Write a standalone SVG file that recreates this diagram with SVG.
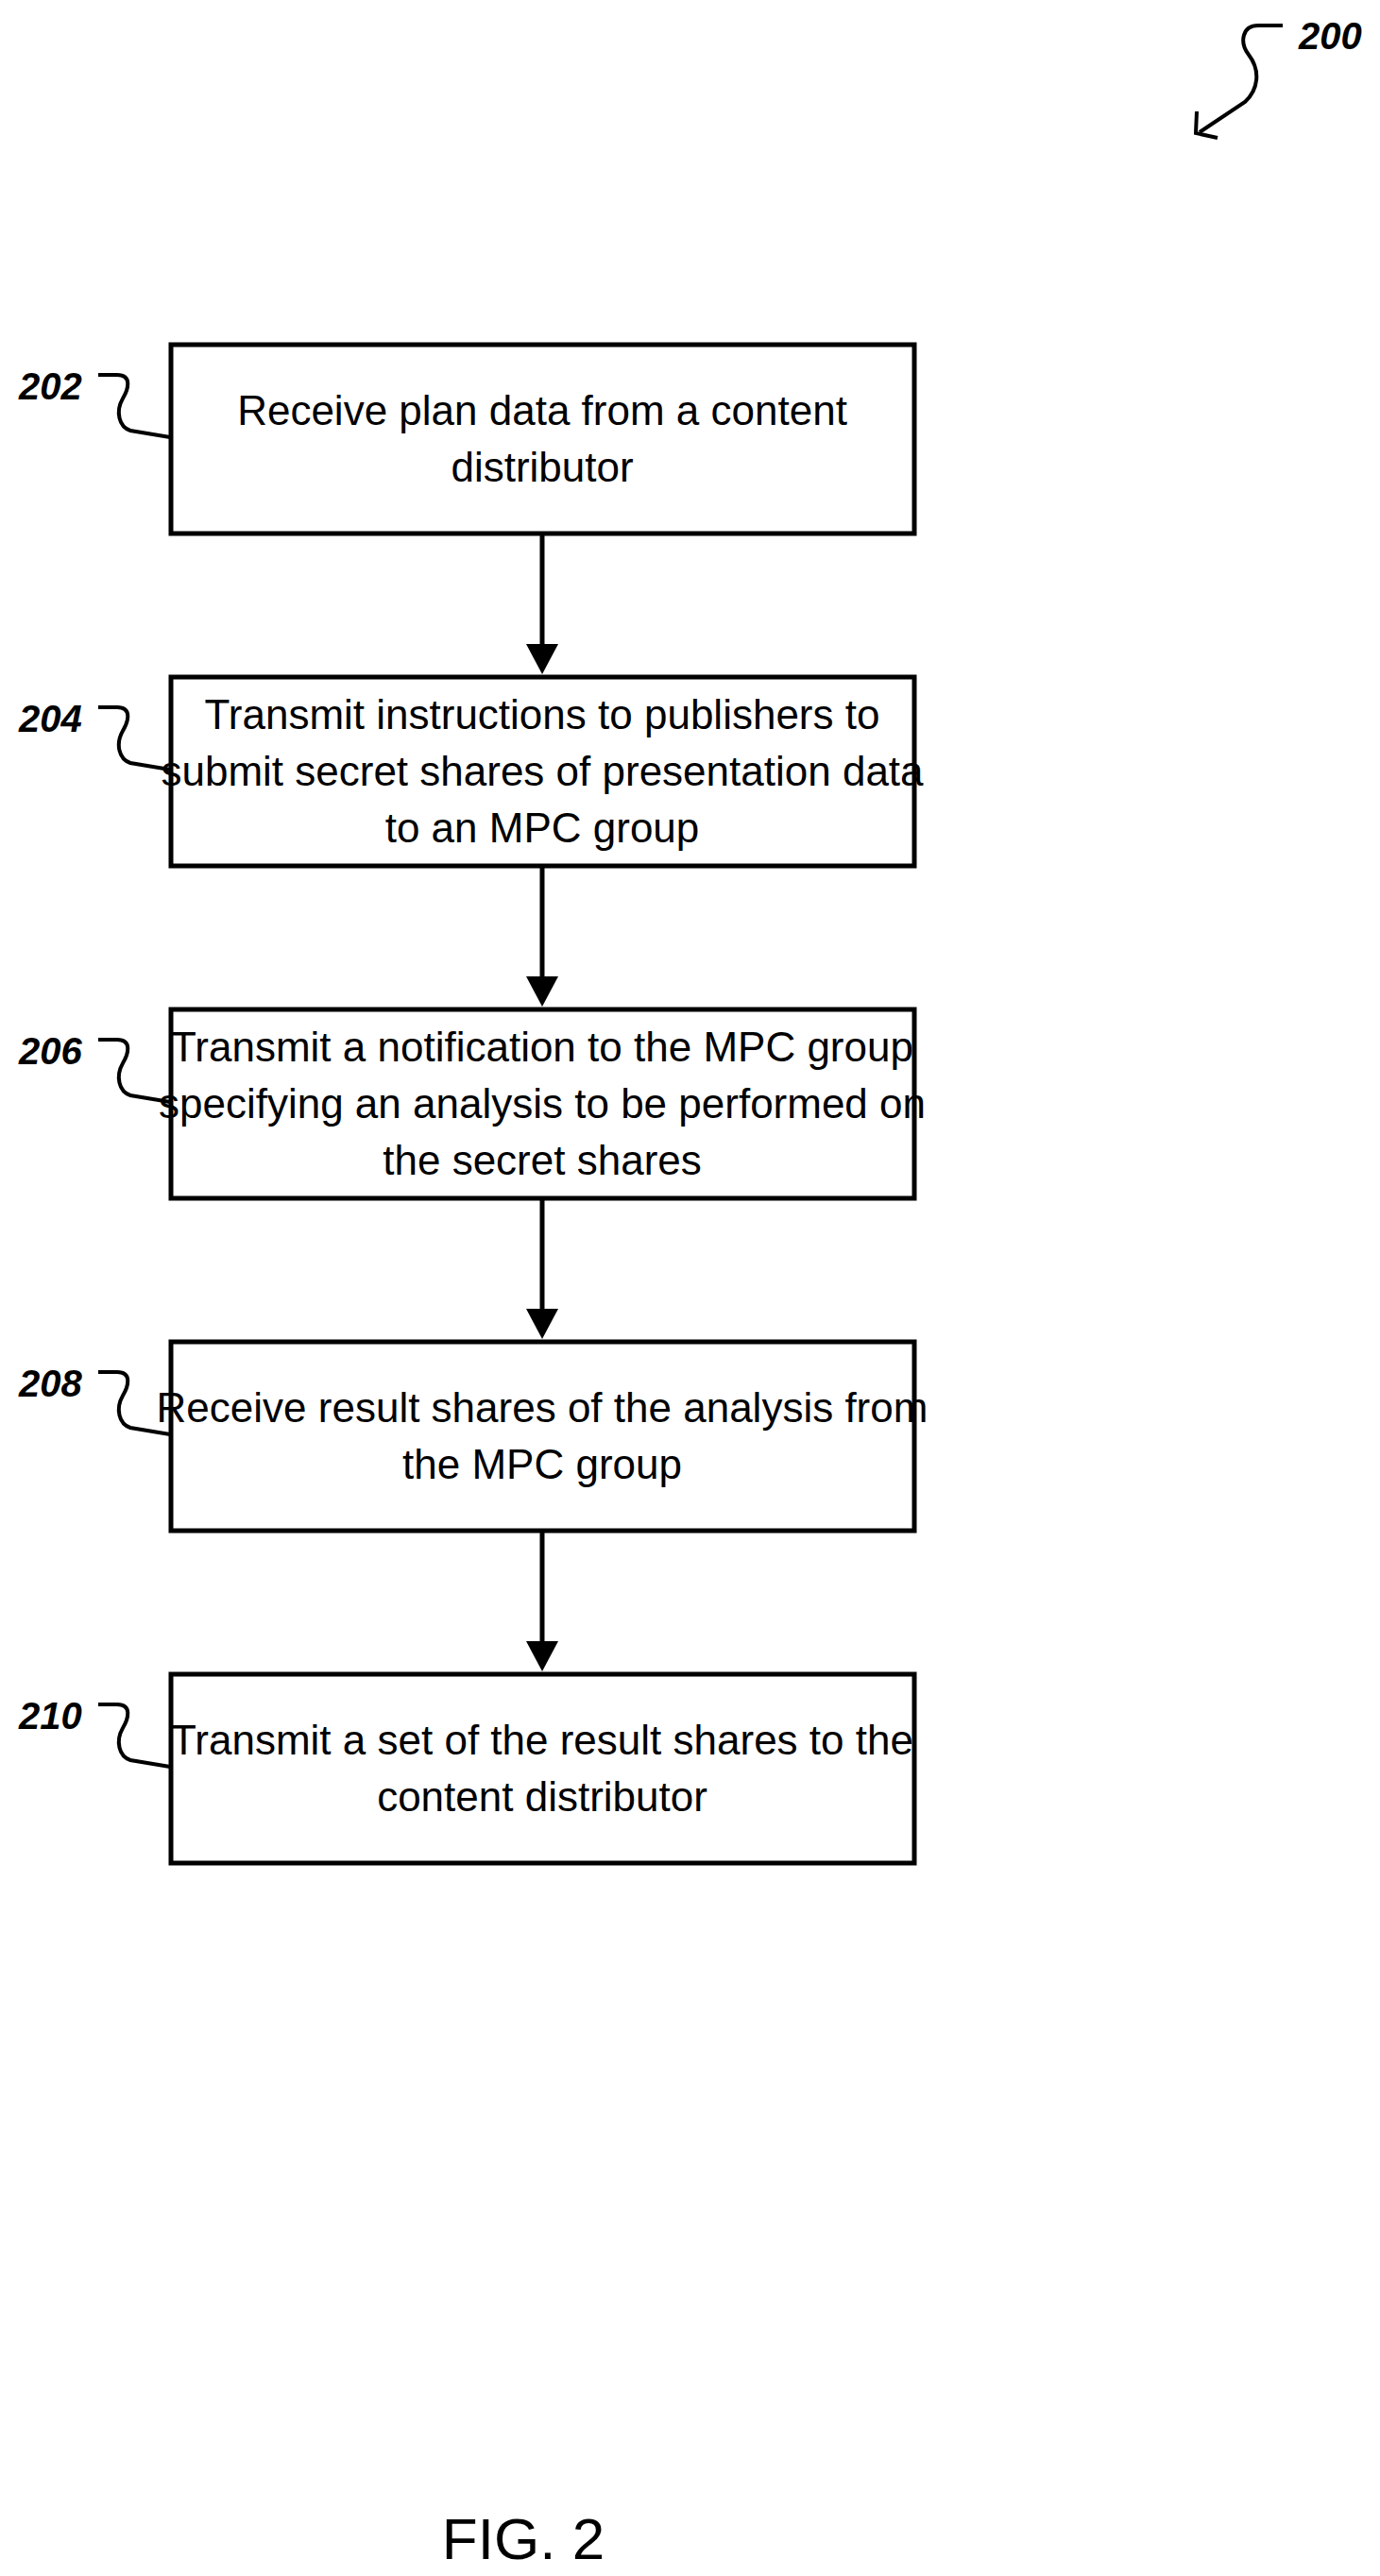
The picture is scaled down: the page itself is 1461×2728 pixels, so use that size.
<svg xmlns="http://www.w3.org/2000/svg" width="1461" height="2728" viewBox="0 0 1461 2728">
<style>
.box{fill:#fff;stroke:#000;stroke-width:5}
.t{font-family:"Liberation Sans Narrow","Arial Narrow","Liberation Sans",sans-serif;font-size:44px;text-anchor:middle;fill:#000}
.lbl{font-family:"Liberation Sans Narrow","Arial Narrow","Liberation Sans",sans-serif;font-size:40px;font-weight:bold;font-style:italic;fill:#000}
.ln{fill:none;stroke:#000;stroke-width:4}
.c{stroke:#000;stroke-width:5;fill:none}
</style>
<defs>
<marker id="ah" markerWidth="10" markerHeight="10" refX="9" refY="5" orient="auto" markerUnits="userSpaceOnUse" viewBox="0 0 10 10">
<path d="M0,0 L10,5 L0,10 Z" fill="#000"/>
</marker>
</defs>
<rect width="1461" height="2728" fill="#fff"/>
<g id="ref200">
<text class="lbl" x="1375" y="52">200</text>
<path class="ln" d="M1358,27 L1332,27 C1315,27 1312,45 1322,58 C1335,75 1332,95 1318,108 L1270,140"/>
<path class="ln" d="M1267,118 L1266,141 L1289,146"/>
</g>
<g id="connectors">
<line class="c" x1="574" y1="566" x2="574" y2="686"/><path d="M557,682 L591,682 L574,714 Z"/>
<line class="c" x1="574" y1="918" x2="574" y2="1038"/><path d="M557,1034 L591,1034 L574,1066 Z"/>
<line class="c" x1="574" y1="1270" x2="574" y2="1390"/><path d="M557,1386 L591,1386 L574,1418 Z"/>
<line class="c" x1="574" y1="1622" x2="574" y2="1742"/><path d="M557,1738 L591,1738 L574,1770 Z"/>
</g>
<g id="n202">
<rect class="box" x="181" y="365" width="787" height="200"/>
<text class="t" x="574" y="450">Receive plan data from a content</text>
<text class="t" x="574" y="510">distributor</text>
<text class="lbl" x="20" y="423">202</text>
<path class="ln" d="M104,397 L124,397 C140,397 136,412 130,422 C122,436 126,452 138,456 L180,463"/>
</g>
<g id="n204">
<rect class="box" x="181" y="717" width="787" height="200"/>
<text class="t" x="574" y="772">Transmit instructions to publishers to</text>
<text class="t" x="574" y="832">submit secret shares of presentation data</text>
<text class="t" x="574" y="892">to an MPC group</text>
<text class="lbl" x="20" y="775">204</text>
<path class="ln" d="M104,749 L124,749 C140,749 136,764 130,774 C122,788 126,804 138,808 L180,815"/>
</g>
<g id="n206">
<rect class="box" x="181" y="1069" width="787" height="200"/>
<text class="t" x="574" y="1124">Transmit a notification to the MPC group</text>
<text class="t" x="574" y="1184">specifying an analysis to be performed on</text>
<text class="t" x="574" y="1244">the secret shares</text>
<text class="lbl" x="20" y="1127">206</text>
<path class="ln" d="M104,1101 L124,1101 C140,1101 136,1116 130,1126 C122,1140 126,1156 138,1160 L180,1167"/>
</g>
<g id="n208">
<rect class="box" x="181" y="1421" width="787" height="200"/>
<text class="t" x="574" y="1506">Receive result shares of the analysis from</text>
<text class="t" x="574" y="1566">the MPC group</text>
<text class="lbl" x="20" y="1479">208</text>
<path class="ln" d="M104,1453 L124,1453 C140,1453 136,1468 130,1478 C122,1492 126,1508 138,1512 L180,1519"/>
</g>
<g id="n210">
<rect class="box" x="181" y="1773" width="787" height="200"/>
<text class="t" x="574" y="1858">Transmit a set of the result shares to the</text>
<text class="t" x="574" y="1918">content distributor</text>
<text class="lbl" x="20" y="1831">210</text>
<path class="ln" d="M104,1805 L124,1805 C140,1805 136,1820 130,1830 C122,1844 126,1860 138,1864 L180,1871"/>
</g>
<text x="554" y="2710" style="font-family:'Liberation Sans Narrow','Arial Narrow','Liberation Sans',sans-serif;font-size:62px;text-anchor:middle">FIG. 2</text>
</svg>
